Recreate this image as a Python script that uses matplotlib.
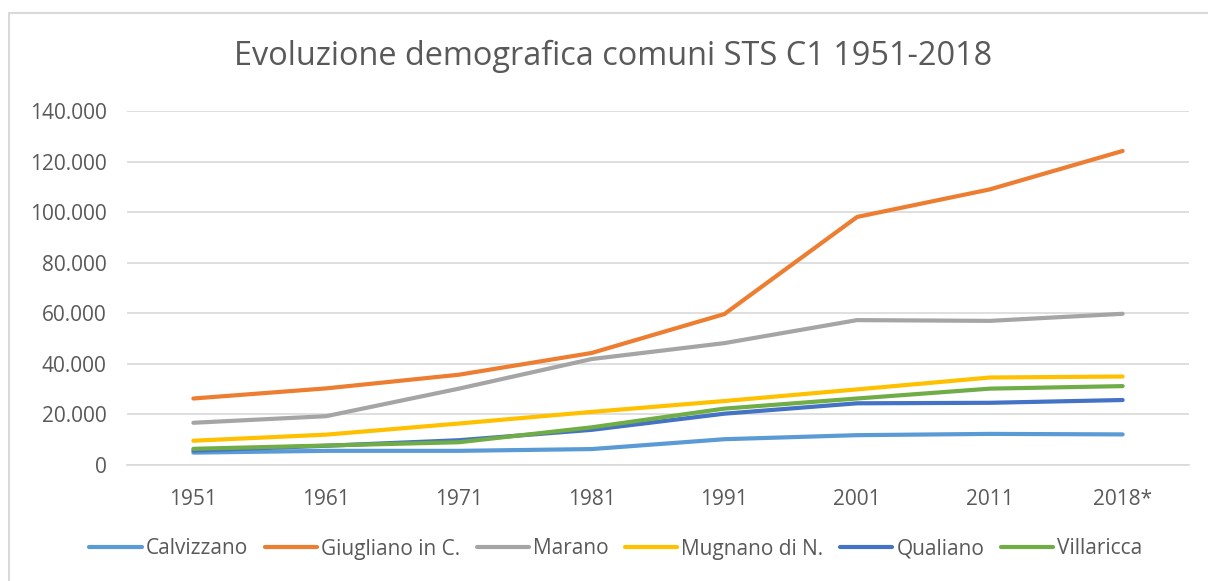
import matplotlib
matplotlib.use("Agg")
import matplotlib.pyplot as plt
from matplotlib.patches import Rectangle
from matplotlib.ticker import FuncFormatter

years = ["1951", "1961", "1971", "1981", "1991", "2001", "2011", "2018*"]
calvizzano = [4900, 5600, 5600, 6300, 10200, 11800, 12300, 12100]
giugliano = [26300, 30300, 35700, 44300, 59700, 98100, 109000, 124200]
marano = [16700, 19300, 30200, 41900, 48200, 57300, 57000, 59800]
mugnano = [9600, 12000, 16400, 21000, 25300, 29900, 34600, 35000]
qualiano = [5700, 7600, 9800, 13900, 20300, 24400, 24600, 25700]
villaricca = [6400, 7700, 9000, 14900, 22300, 26300, 30200, 31200]

series = [
    ("Calvizzano", calvizzano, "#5B9BD5"),
    ("Giugliano in C.", giugliano, "#ED7D31"),
    ("Marano", marano, "#A5A5A5"),
    ("Mugnano di N.", mugnano, "#FFC000"),
    ("Qualiano", qualiano, "#4472C4"),
    ("Villaricca", villaricca, "#70AD47"),
]

plt.rcParams['font.family'] = ['Open Sans', 'DejaVu Sans']
txt = "#595959"

fig = plt.figure(figsize=(12.08, 5.81), dpi=100)
fig.patches.append(Rectangle((9 / 1208, -0.01), 1.02, 1 - 13 / 581 + 0.01,
                             transform=fig.transFigure, fill=False,
                             edgecolor="#D9D9D9", linewidth=1.5))
ax = fig.add_axes([127 / 1208, 1 - 465 / 581, (1189 - 127) / 1208, (465 - 111) / 581])

x = list(range(len(years)))
for name, vals, col in series:
    ax.plot(x, vals, color=col, linewidth=3.0, solid_capstyle="round",
            solid_joinstyle="round", label=name)

ax.set_xlim(-0.5, len(years) - 0.5)
ax.set_ylim(0, 140000)
ax.set_yticks(range(0, 140001, 20000))
ax.yaxis.set_major_formatter(FuncFormatter(lambda v, p: f"{int(v):,}".replace(",", ".")))
ax.set_xticks(x)
ax.set_xticklabels(years)
ax.grid(axis="y", color="#D9D9D9", linewidth=1.2)
ax.set_axisbelow(True)
for s in ["top", "right", "left"]:
    ax.spines[s].set_visible(False)
ax.spines["bottom"].set_color("#D9D9D9")
ax.spines["bottom"].set_linewidth(1.2)
ax.tick_params(axis="both", length=0, colors=txt, labelsize=15)
ax.tick_params(axis="y", pad=14.5)
ax.tick_params(axis="x", pad=17)

fig.text(613 / 1208, 1 - 56 / 581, "Evoluzione demografica comuni STS C1 1951-2018",
         ha="center", va="center", fontsize=23.4, color=txt)

handles, labels = ax.get_legend_handles_labels()
leg = fig.legend(handles, labels, loc="center", bbox_to_anchor=(616 / 1208, 1 - 549 / 581),
                 ncol=6, frameon=False, fontsize=15, handlelength=2.5,
                 handletextpad=0.2, columnspacing=0.8, labelcolor=txt)

fig.savefig("out.png", dpi=100)
